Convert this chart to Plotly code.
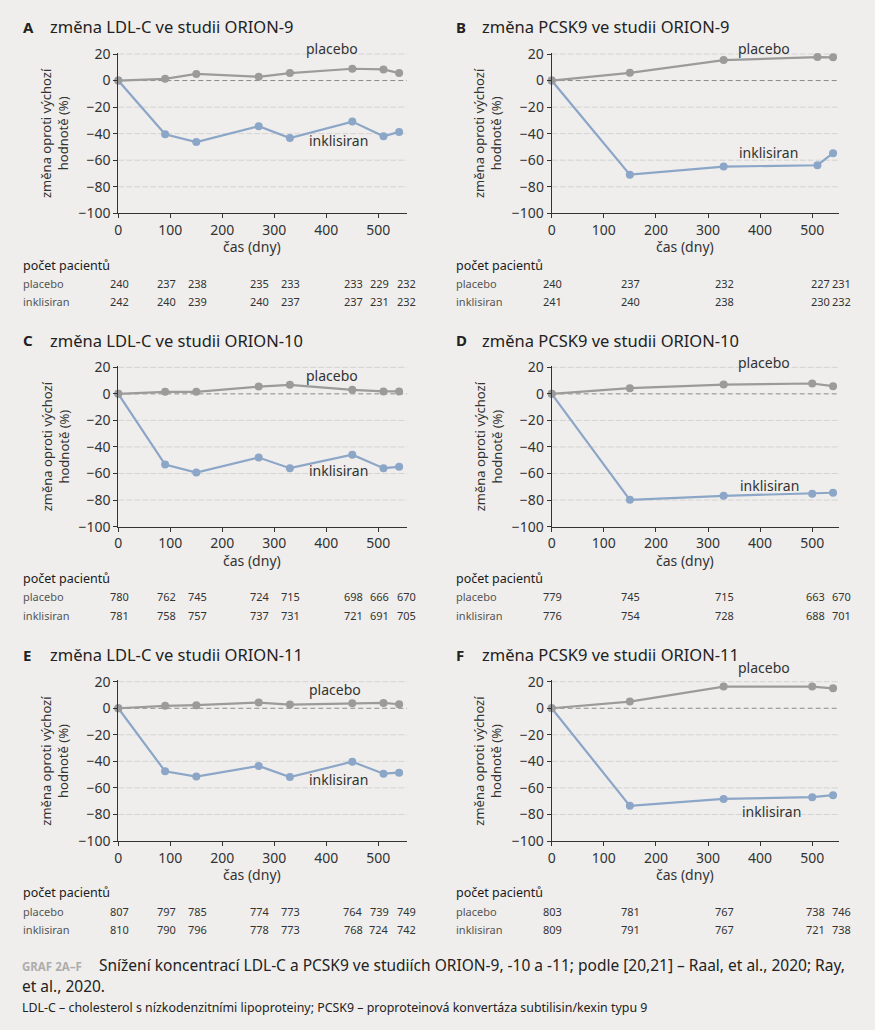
import plotly.graph_objects as go

# ---------------- data ----------------
days_9_ldl = [0, 90, 150, 270, 330, 450, 510, 540]
days_9_pcsk = [0, 150, 330, 510, 540]
days_10_ldl = [0, 90, 150, 270, 330, 450, 510, 540]
days_10_pcsk = [0, 150, 330, 500, 540]
days_11_ldl = [0, 90, 150, 270, 330, 450, 510, 540]
days_11_pcsk = [0, 150, 330, 500, 540]

A_placebo = [0, 1.3, 5.0, 2.8, 5.6, 8.9, 8.4, 5.6]
A_inklisiran = [0, -40.5, -46.3, -34.4, -43.3, -30.9, -42.0, -38.7]
B_placebo = [0, 5.8, 15.4, 17.7, 17.5]
B_inklisiran = [0, -70.9, -64.8, -63.8, -54.7]
C_placebo = [0, 1.5, 1.5, 5.5, 6.8, 3.0, 1.8, 1.8]
C_inklisiran = [0, -53.3, -59.3, -48.0, -56.0, -45.8, -56.0, -55.0]
D_placebo = [0, 4.3, 7.0, 7.8, 5.8]
D_inklisiran = [0, -79.8, -76.8, -75.3, -74.5]
E_placebo = [0, 1.8, 2.3, 4.3, 2.8, 3.8, 4.0, 3.0]
E_inklisiran = [0, -47.5, -51.5, -43.5, -51.8, -40.3, -49.3, -48.5]
F_placebo = [0, 5.0, 16.3, 16.3, 15.0]
F_inklisiran = [0, -73.5, -68.3, -67.0, -65.5]

A_n_placebo = [240, 237, 238, 235, 233, 233, 229, 232]
A_n_inklisiran = [242, 240, 239, 240, 237, 237, 231, 232]
B_n_placebo = [240, 237, 232, 227, 231]
B_n_inklisiran = [241, 240, 238, 230, 232]
C_n_placebo = [780, 762, 745, 724, 715, 698, 666, 670]
C_n_inklisiran = [781, 758, 757, 737, 731, 721, 691, 705]
D_n_placebo = [779, 745, 715, 663, 670]
D_n_inklisiran = [776, 754, 728, 688, 701]
E_n_placebo = [807, 797, 785, 774, 773, 764, 739, 749]
E_n_inklisiran = [810, 790, 796, 778, 773, 768, 724, 742]
F_n_placebo = [803, 781, 767, 738, 746]
F_n_inklisiran = [809, 791, 767, 721, 738]

titles = ["změna LDL-C ve studii ORION-9", "změna PCSK9 ve studii ORION-9",
          "změna LDL-C ve studii ORION-10", "změna PCSK9 ve studii ORION-10",
          "změna LDL-C ve studii ORION-11", "změna PCSK9 ve studii ORION-11"]
letters = ["A", "B", "C", "D", "E", "F"]
y_ticks = [-100, -80, -60, -40, -20, 0, 20]
x_ticks = [0, 100, 200, 300, 400, 500]

# ---------------- layout helpers ----------------
W, H = 875, 1030
FONT = "Noto Sans"
BG = "#efeeec"
GRAY = "#9b9b9b"
BLUE = "#8ca6c8"
TXT = "#333333"
YMIN, YMAX = -100, 21


def px(p):
    return p / W


def py(p):
    return 1 - p / H


panels = [
    dict(days=days_9_ldl, pl=A_placebo, ik=A_inklisiran, npl=A_n_placebo, nik=A_n_inklisiran,
         lab_pl=(410, 24), lab_ik=(424, -45.5)),
    dict(days=days_9_pcsk, pl=B_placebo, ik=B_inklisiran, npl=B_n_placebo, nik=B_n_inklisiran,
         lab_pl=(408, 24), lab_ik=(416, -54)),
    dict(days=days_10_ldl, pl=C_placebo, ik=C_inklisiran, npl=C_n_placebo, nik=C_n_inklisiran,
         lab_pl=(410, 13.5), lab_ik=(424, -58)),
    dict(days=days_10_pcsk, pl=D_placebo, ik=D_inklisiran, npl=D_n_placebo, nik=D_n_inklisiran,
         lab_pl=(408, 23.8), lab_ik=(418, -68.8)),
    dict(days=days_11_ldl, pl=E_placebo, ik=E_inklisiran, npl=E_n_placebo, nik=E_n_inklisiran,
         lab_pl=(416, 14.5), lab_ik=(424, -53.8)),
    dict(days=days_11_pcsk, pl=F_placebo, ik=F_inklisiran, npl=F_n_placebo, nik=F_n_inklisiran,
         lab_pl=(408, 31), lab_ik=(422, -78)),
]

# column geometry (pixels)
cols = [dict(x0=118.3, x1=406.9, xmax=555, letter_x=21, title_x=47.7, ytitle_x=55, xtitle_x=252, tab_x=21),
        dict(x0=551.7, x1=839.3, xmax=552, letter_x=454, title_x=480, ytitle_x=488, xtitle_x=685, tab_x=454)]
# row geometry: pixel y of tick "20"
rows = [54.0, 367.3, 681.7]
YPX = 159.3 / 120.0  # pixels per unit

fig = go.Figure()
annotations = []
shapes = []

for i, p in enumerate(panels):
    c = cols[i % 2]
    r = rows[i // 2]
    n = i + 1
    xa = "x" if n == 1 else f"x{n}"
    ya = "y" if n == 1 else f"y{n}"
    top = r - (YMAX - 20) * YPX
    bottom = r + 120 * YPX

    fig.add_trace(go.Scatter(x=p["days"], y=p["ik"], mode="lines+markers", xaxis=xa, yaxis=ya,
                             line=dict(color=BLUE, width=2.2), marker=dict(color=BLUE, size=8),
                             showlegend=False, cliponaxis=False, hoverinfo="x+y"))
    fig.add_trace(go.Scatter(x=p["days"], y=p["pl"], mode="lines+markers", xaxis=xa, yaxis=ya,
                             line=dict(color=GRAY, width=2.2), marker=dict(color=GRAY, size=8),
                             showlegend=False, cliponaxis=False, hoverinfo="x+y"))

    fig.layout[f"xaxis{n if n > 1 else ''}"] = dict(
        domain=[px(c["x0"]), px(c["x1"])], range=[0, c["xmax"]], anchor=ya, automargin=False,
        tickvals=x_ticks, showgrid=False, zeroline=False, showline=True, linecolor=TXT, linewidth=1,
        ticks="outside", ticklen=4, tickcolor=TXT, tickfont=dict(family=FONT, size=14, color=TXT))
    fig.layout[f"yaxis{n if n > 1 else ''}"] = dict(
        domain=[py(bottom), py(top)], range=[YMIN, YMAX], anchor=xa, automargin=False,
        tickvals=y_ticks, showgrid=False,
        zeroline=False, showline=True, linecolor=TXT, linewidth=1,
        ticks="outside", ticklen=4, tickcolor=TXT, tickfont=dict(family=FONT, size=14, color=TXT))

    # light dashed gridlines at the tick values, darker dashed line at zero
    for v in y_ticks:
        if v == YMIN:
            continue
        if v == 0:
            ln = dict(color="#8a8a8a", width=1, dash="5px,3px")
        else:
            ln = dict(color="#d3d3d3", width=1, dash="6px,2px")
        shapes.append(dict(type="line", xref=f"{xa} domain", yref=ya, x0=0, x1=1, y0=v, y1=v,
                           line=ln, layer="below"))

    # panel letter + title
    annotations.append(dict(text=f"<b>{letters[i]}</b>", xref="paper", yref="paper", x=px(c["letter_x"]),
                            y=py(r - 27), xanchor="left", yanchor="middle", showarrow=False,
                            font=dict(family=FONT, size=15, color="#222")))
    annotations.append(dict(text=titles[i], xref="paper", yref="paper", x=px(c["title_x"]),
                            y=py(r - 27), xanchor="left", yanchor="middle", showarrow=False,
                            font=dict(family=FONT, size=16.5, color="#222")))
    # y title
    annotations.append(dict(text="změna oproti výchozí<br>hodnotě (%)", xref="paper", yref="paper",
                            x=px(c["ytitle_x"]), y=py((top + bottom) / 2), textangle=-90,
                            xanchor="center", yanchor="middle", showarrow=False,
                            font=dict(family=FONT, size=13, color=TXT)))
    # x title
    annotations.append(dict(text="čas (dny)", xref="paper", yref="paper", x=px(c["xtitle_x"]),
                            y=py(r + 192.7), xanchor="center", yanchor="middle", showarrow=False,
                            font=dict(family=FONT, size=14, color=TXT)))
    # in-plot series labels (domain-referenced so they may sit above the axis top)
    for (lx, ly), t in ((p["lab_pl"], "placebo"), (p["lab_ik"], "inklisiran")):
        annotations.append(dict(text=t, xref=f"{xa} domain", yref=f"{ya} domain",
                                x=lx / c["xmax"], y=(ly - YMIN) / (YMAX - YMIN),
                                xanchor="center", yanchor="middle",
                                showarrow=False, font=dict(family=FONT, size=14, color=TXT)))

    # patient table
    annotations.append(dict(text="počet pacientů", xref="paper", yref="paper", x=px(c["tab_x"]),
                            y=py(r + 211), xanchor="left", yanchor="middle", showarrow=False,
                            font=dict(family=FONT, size=12.5, color="#1a1a1a")))
    for lab, vals, dy in (("placebo", p["npl"], 229.3), ("inklisiran", p["nik"], 247.7)):
        annotations.append(dict(text=lab, xref="paper", yref="paper", x=px(c["tab_x"]),
                                y=py(r + dy), xanchor="left", yanchor="middle", showarrow=False,
                                font=dict(family=FONT, size=11, color="#555")))
        m = len(vals)
        for j, v in enumerate(vals):
            shift = 1
            if j == m - 2:
                shift = -4.5 if i % 2 == 0 else 3
            elif j == m - 1:
                shift = 7 if i % 2 == 0 else 8
            annotations.append(dict(text=str(v), xref=xa, yref="paper", x=p["days"][j], xshift=shift,
                                    y=py(r + dy), xanchor="center", yanchor="middle", showarrow=False,
                                    font=dict(family=FONT, size=11, color=TXT)))

# caption
annotations.append(dict(text="<b>GRAF 2A–F</b>", xref="paper", yref="paper", x=px(20), y=py(966),
                        xanchor="left", yanchor="middle", showarrow=False,
                        font=dict(family=FONT, size=11.5, color="#adadad")))
annotations.append(dict(text="Snížení koncentrací LDL-C a PCSK9 ve studiích ORION-9, -10 a -11; podle [20,21] – Raal, et al., 2020; Ray,",
                        xref="paper", yref="paper", x=px(97), y=py(965),
                        xanchor="left", yanchor="middle", showarrow=False,
                        font=dict(family=FONT, size=15.5, color="#222")))
annotations.append(dict(text="et al., 2020.", xref="paper", yref="paper", x=px(20), y=py(986),
                        xanchor="left", yanchor="middle", showarrow=False,
                        font=dict(family=FONT, size=15.5, color="#222")))
annotations.append(dict(text="LDL-C – cholesterol s nízkodenzitními lipoproteiny; PCSK9 – proproteinová konvertáza subtilisin/kexin typu 9",
                        xref="paper", yref="paper", x=px(20), y=py(1007),
                        xanchor="left", yanchor="middle", showarrow=False,
                        font=dict(family=FONT, size=12.4, color="#222")))

fig.update_layout(width=W, height=H, margin=dict(l=0, r=0, t=0, b=0, pad=0, autoexpand=False),
                  paper_bgcolor=BG, plot_bgcolor=BG, annotations=annotations, shapes=shapes,
                  font=dict(family=FONT, color=TXT), showlegend=False)

fig.write_html("out.html", config={"displayModeBar": False},
               post_script="document.body.style.margin='0px';document.body.style.padding='0px';"
                           "document.documentElement.style.overflow='hidden';")
